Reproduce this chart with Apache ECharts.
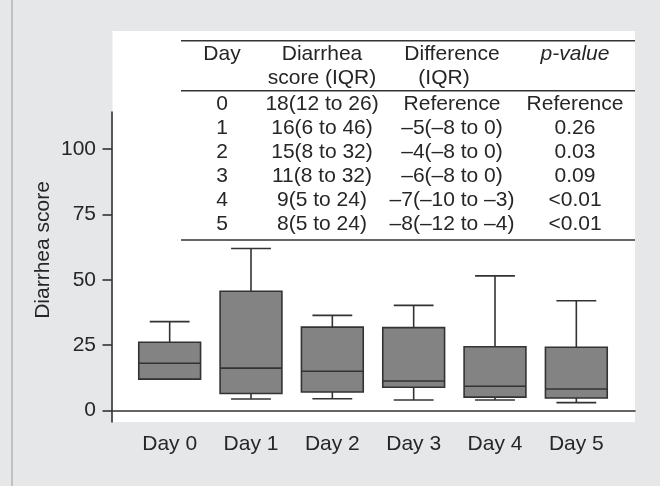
<!DOCTYPE html>
<html>
<head>
<meta charset="utf-8">
<script src="https://cdn.jsdelivr.net/npm/echarts@6/dist/echarts.min.js"></script>
<style>html,body{margin:0;padding:0;background:#e6e7e9;}#chart{width:660px;height:486px;}</style>
</head>
<body>
<div id="chart"></div>
<script>
// ---- data ----
const categories = ['Day 0', 'Day 1', 'Day 2', 'Day 3', 'Day 4', 'Day 5'];
const minVals    = [12.0, 4.4, 4.5, 4.0, 4.0, 3.0];
const q1Vals     = [12.0, 6.5, 7.1, 8.9, 5.1, 4.8];
const medianVals = [18.1, 16.2, 15.0, 11.3, 9.3, 8.2];
const q3Vals     = [26.1, 45.6, 31.9, 31.7, 24.4, 24.2];
const maxVals    = [34.0, 62.0, 36.4, 40.2, 51.5, 42.0];
const yTickValues = [0, 25, 50, 75, 100];
const yAxisTitle = 'Diarrhea score';

const tableHeader1 = ['Day', 'Diarrhea', 'Difference', 'p-value'];
const tableHeader2 = ['', 'score (IQR)', '(IQR)', ''];
const tableDay   = ['0', '1', '2', '3', '4', '5'];
const tableScore = ['18(12 to 26)', '16(6 to 46)', '15(8 to 32)', '11(8 to 32)', '9(5 to 24)', '8(5 to 24)'];
const tableDiff  = ['Reference', '–5(–8 to 0)', '–4(–8 to 0)', '–6(–8 to 0)', '–7(–10 to –3)', '–8(–12 to –4)'];
const tablePval  = ['Reference', '0.26', '0.03', '0.09', '<0.01', '<0.01'];

// ---- styling / layout ----
const FONT = '"Liberation Sans", Arial, Helvetica, sans-serif';
const FS = 21;
const TXT = '#262626';
const LINE = '#333333';
const Y_MIN = -4.4, Y_MAX = 114.2;

const colX = [222, 322, 452, 575];
const header2X = [222, 322, 444, 575];
const hdrBase1 = 62, hdrBase2 = 86, rowBase0 = 112, rowStep = 24;
const midOff = 7.4;

const graphics = [];
// white plot panel
graphics.push({type: 'rect', z: -100, shape: {x: 112.5, y: 31, width: 522.5, height: 391}, style: {fill: '#ffffff'}});
// left border line of figure
graphics.push({type: 'line', z: -100, shape: {x1: 12, y1: 0, x2: 12, y2: 486}, style: {stroke: '#b4b4b6', lineWidth: 1.5}});
// table rules
[40.7, 90.7, 240].forEach(function (y) {
  graphics.push({type: 'line', shape: {x1: 181, y1: y, x2: 635, y2: y}, style: {stroke: LINE, lineWidth: 1.6}});
});
function addText(str, x, base, italic) {
  if (!str) return;
  graphics.push({type: 'text', x: x, y: base - midOff, style: {
    text: str, fill: TXT, font: (italic ? 'italic ' : '') + FS + 'px ' + FONT,
    align: 'center', verticalAlign: 'middle'}});
}
tableHeader1.forEach(function (t, c) { addText(t, colX[c], hdrBase1, c === 3); });
tableHeader2.forEach(function (t, c) { addText(t, header2X[c], hdrBase2, false); });
const cols = [tableDay, tableScore, tableDiff, tablePval];
cols.forEach(function (col, c) {
  col.forEach(function (t, r) { addText(t, colX[c], rowBase0 + r * rowStep, false); });
});
// y axis title
graphics.push({type: 'text', x: 43.5, y: 250, rotation: Math.PI / 2, style: {
  text: yAxisTitle, fill: TXT, font: FS + 'px ' + FONT, align: 'center', verticalAlign: 'middle'}});

const boxData = categories.map(function (c, i) {
  return [i, minVals[i], q1Vals[i], medianVals[i], q3Vals[i], maxVals[i]];
});

const chart = echarts.init(document.getElementById('chart'), null, {renderer: 'canvas'});
chart.setOption({
  backgroundColor: '#e6e7e9',
  animation: false,
  textStyle: {fontFamily: FONT},
  grid: [
    {left: 112, right: 25, top: 112, bottom: 64},
    {left: 129, right: 43, top: 112, bottom: 64}
  ],
  xAxis: [
    {gridIndex: 0, type: 'value', min: 0, max: 1,
     axisLine: {show: true, lineStyle: {color: LINE, width: 1.6}},
     axisTick: {show: false}, axisLabel: {show: false}, splitLine: {show: false}},
    {gridIndex: 1, type: 'category', data: categories,
     axisLine: {show: false}, axisTick: {show: false}, splitLine: {show: false},
     axisLabel: {color: TXT, fontSize: FS, fontFamily: FONT, margin: 12}}
  ],
  yAxis: [
    {gridIndex: 0, type: 'value', min: Y_MIN, max: Y_MAX,
     axisLine: {show: true, lineStyle: {color: LINE, width: 1.6}},
     axisTick: {show: true, length: 9.5, customValues: yTickValues, lineStyle: {color: LINE, width: 1.6}},
     axisLabel: {color: TXT, fontSize: FS, fontFamily: FONT, margin: 16, customValues: yTickValues},
     splitLine: {show: false}},
    {gridIndex: 1, type: 'value', min: Y_MIN, max: Y_MAX, show: false, splitLine: {show: false}}
  ],
  graphic: graphics,
  series: [{
    type: 'custom',
    xAxisIndex: 1, yAxisIndex: 1,
    encode: {x: 0, y: [1, 2, 3, 4, 5]},
    data: boxData,
    renderItem: function (params, api) {
      const i = api.value(0);
      const pMin = api.coord([i, api.value(1)]);
      const pQ1 = api.coord([i, api.value(2)]);
      const pMed = api.coord([i, api.value(3)]);
      const pQ3 = api.coord([i, api.value(4)]);
      const pMax = api.coord([i, api.value(5)]);
      const band = api.size([1, 0])[0];
      const bw = band * 0.76, cw = band * 0.49;
      const x = pMed[0];
      const ls = {stroke: LINE, lineWidth: 1.6};
      const children = [
        {type: 'line', shape: {x1: x, y1: pQ3[1], x2: x, y2: pMax[1]}, style: ls},
        {type: 'line', shape: {x1: x - cw / 2, y1: pMax[1], x2: x + cw / 2, y2: pMax[1]}, style: ls},
        {type: 'line', shape: {x1: x, y1: pQ1[1], x2: x, y2: pMin[1]}, style: ls},
        {type: 'line', shape: {x1: x - cw / 2, y1: pMin[1], x2: x + cw / 2, y2: pMin[1]}, style: ls},
        {type: 'rect', shape: {x: x - bw / 2, y: pQ3[1], width: bw, height: pQ1[1] - pQ3[1]},
         style: {fill: '#838383', stroke: LINE, lineWidth: 1.6}},
        {type: 'line', shape: {x1: x - bw / 2, y1: pMed[1], x2: x + bw / 2, y2: pMed[1]}, style: ls}
      ];
      return {type: 'group', children: children};
    }
  }]
});
</script>
</body>
</html>
